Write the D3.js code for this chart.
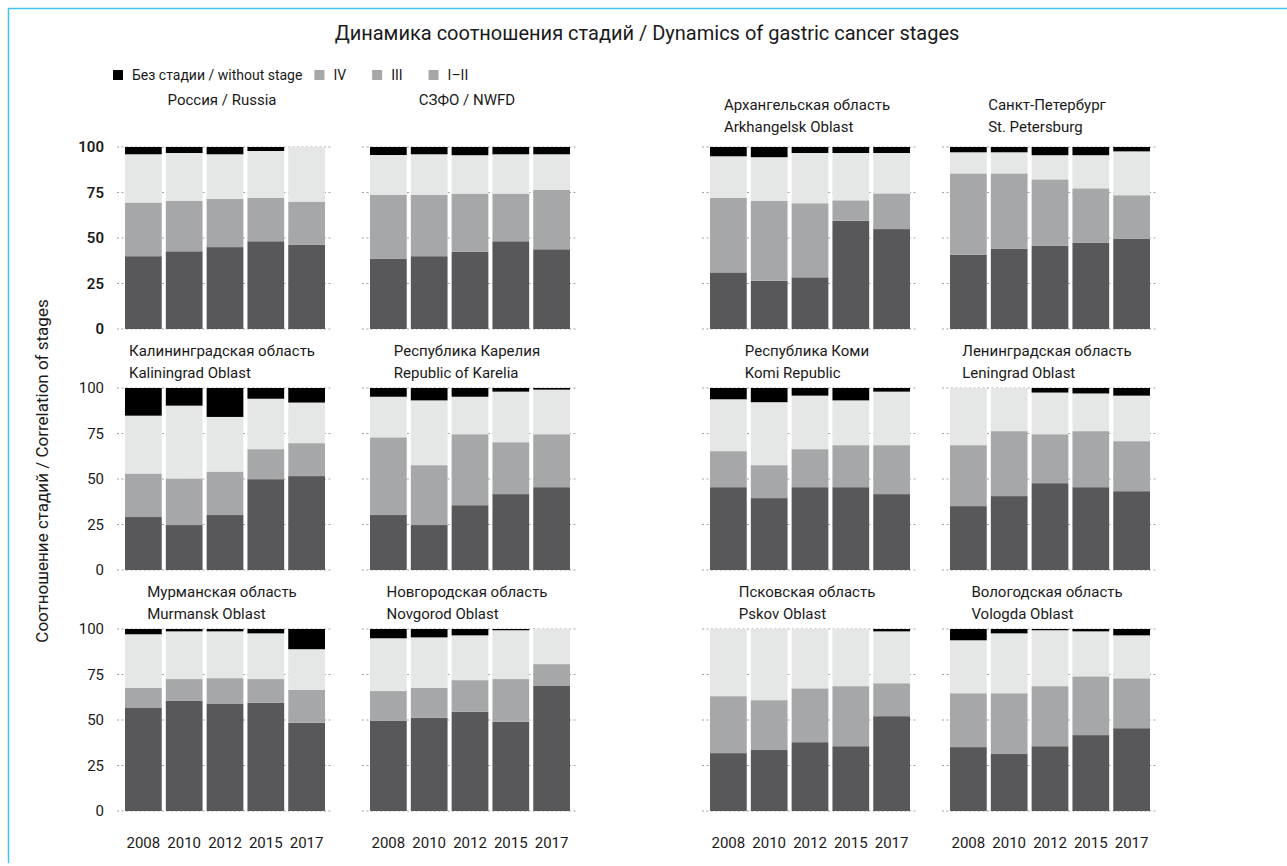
<!DOCTYPE html>
<html>
<head>
<meta charset="utf-8">
<script src="https://cdn.jsdelivr.net/npm/d3@7"></script>
<style>
  body { margin: 0; background: #fff; }
  svg { display: block; font-family: Roboto, "Open Sans", sans-serif; }
</style>
</head>
<body>
<div id="chart"></div>
<script>
// Years on the x axis of every panel
const years = ["2008", "2010", "2012", "2015", "2017"];

// Panel titles (line 1 / line 2)
const titleRu = ["Россия / Russia", "СЗФО / NWFD", "Архангельская область", "Санкт-Петербург",
  "Калининградская область", "Республика Карелия", "Республика Коми", "Ленинградская область",
  "Мурманская область", "Новгородская область", "Псковская область", "Вологодская область"];
const titleEn = ["", "", "Arkhangelsk Oblast", "St. Petersburg",
  "Kaliningrad Oblast", "Republic of Karelia", "Komi Republic", "Leningrad Oblast",
  "Murmansk Oblast", "Novgorod Oblast", "Pskov Oblast", "Vologda Oblast"];

// Legend labels
const legendLabels = ["Без стадии / without stage", "IV", "III", "I–II"];
const yTicks = [0, 25, 50, 75, 100];

// Share of stages, % (one row per region, one value per year)
const stageI_II = [
  [40, 42.7, 45, 48.2, 46.4],
  [38.7, 40, 42.5, 48.2, 43.8],
  [31.1, 26.5, 28.4, 59.5, 54.9],
  [40.9, 44, 45.8, 47.5, 49.5],
  [29.1, 24.7, 30.2, 49.9, 51.6],
  [30.2, 24.7, 35.6, 41.7, 45.5],
  [45.5, 39.5, 45.5, 45.5, 41.7],
  [35.1, 40.6, 47.7, 45.5, 43.3],
  [56.6, 60.5, 58.8, 59.4, 48.5],
  [49.5, 51.2, 54.5, 49, 68.7],
  [31.8, 33.5, 37.8, 35.6, 52.1],
  [35.1, 31.3, 35.6, 41.7, 45.5]
];
const stageIII = [
  [29.5, 27.8, 26.5, 23.8, 23.6],
  [35.1, 33.8, 31.9, 26.2, 32.6],
  [40.9, 43.9, 40.7, 11.2, 19.6],
  [44.6, 41.5, 36.4, 29.8, 24],
  [23.9, 25.6, 23.9, 16.5, 18.1],
  [42.7, 32.9, 39, 28.5, 29.1],
  [19.8, 18.1, 20.9, 23.1, 26.9],
  [33.5, 35.7, 26.9, 30.8, 27.5],
  [11, 12, 14.2, 13.1, 18],
  [16.4, 16.4, 17.4, 23.5, 12],
  [31.3, 27.4, 29.6, 33, 18.1],
  [29.6, 33.4, 33, 32.3, 27.4]
];
const stageIV = [
  [26.5, 26.2, 24.5, 25.8, 30],
  [21.8, 22.2, 21.1, 21.6, 19.6],
  [22.9, 24, 27.6, 26, 22.2],
  [11.6, 11.6, 13.3, 18.2, 24.1],
  [31.8, 40, 30, 27.7, 22.3],
  [22.3, 35.6, 20.6, 27.8, 24.5],
  [28.5, 34.6, 29.4, 24.6, 29.4],
  [31.4, 23.7, 22.9, 20.7, 25],
  [29.5, 26.2, 25.7, 25.1, 22.4],
  [29, 27.8, 24.6, 26.8, 19.3],
  [36.9, 39.1, 32.6, 31.4, 28.5],
  [29.1, 32.9, 30.7, 24.7, 23.6]
];
const noStage = [
  [4, 3.3, 4, 2.2, 0],
  [4.4, 4, 4.5, 4, 4],
  [5.1, 5.6, 3.3, 3.3, 3.3],
  [2.9, 2.9, 4.5, 4.5, 2.4],
  [15.2, 9.7, 15.9, 5.9, 8],
  [4.8, 6.8, 4.8, 2, 0.9],
  [6.2, 7.8, 4.2, 6.8, 2],
  [0, 0, 2.5, 3, 4.2],
  [2.9, 1.3, 1.3, 2.4, 11.1],
  [5.1, 4.6, 3.5, 0.7, 0],
  [0, 0, 0, 0, 1.3],
  [6.2, 2.4, 0.7, 1.3, 3.5]
];

// Layout
const width = 1287;
const height = 866;
const colX = [125, 370, 710, 950];
const rowY = [147, 388, 629];
const panelW = 200;
const panelH = 182;

const keys = ["i_ii", "iii", "iv", "none"];
const colors = { i_ii: "#58585a", iii: "#a6a7a9", iv: "#e5e6e6", none: "#000000" };
const legendColors = ["#000000", "#a6a7a9", "#a6a7a9", "#a6a7a9"];

const svg = d3.select("#chart")
  .append("svg")
  .attr("width", width)
  .attr("height", height);

// Frame
svg.append("line").attr("x1", 8).attr("x2", width).attr("y1", 8.5).attr("y2", 8.5)
  .attr("stroke", "#45c1ef").attr("stroke-width", 1.5);
svg.append("line").attr("x1", 8.5).attr("x2", 8.5).attr("y1", 8).attr("y2", 863)
  .attr("stroke", "#45c1ef").attr("stroke-width", 1.5);

// Title
svg.append("text")
  .attr("x", 647).attr("y", 40)
  .attr("text-anchor", "middle")
  .attr("font-size", 20)
  .attr("fill", "#1a1a1a")
  .text("Динамика соотношения стадий / Dynamics of gastric cancer stages");

// Legend: squares placed one after another, each after the previous label
const legend = svg.append("g").attr("transform", "translate(0,75)");
const legendGap = [0, 12, 26, 26];
let lx = 113;
legendLabels.forEach((label, i) => {
  lx += legendGap[i];
  legend.append("rect")
    .attr("x", lx).attr("y", -5)
    .attr("width", 10).attr("height", 10)
    .attr("fill", legendColors[i]);
  const t = legend.append("text")
    .attr("x", lx + 19).attr("y", 5)
    .attr("font-size", 14)
    .attr("fill", "#1a1a1a")
    .text(label);
  lx += 19 + t.node().getComputedTextLength();
});

// Y axis title
svg.append("text")
  .attr("transform", "translate(48,471) rotate(-90)")
  .attr("text-anchor", "middle")
  .attr("font-size", 17)
  .attr("fill", "#1a1a1a")
  .text("Соотношение  стадий / Correlation of stages");

const x = d3.scaleBand().domain(years).range([0, panelW]).paddingInner(0.1).paddingOuter(0);
const y = d3.scaleLinear().domain([0, 100]).range([panelH, 0]);
const stack = d3.stack().keys(keys);

titleRu.forEach((name, p) => {
  const row = Math.floor(p / 4);
  const col = p % 4;
  const g = svg.append("g").attr("transform", `translate(${colX[col]},${rowY[row]})`);

  const table = years.map((yr, i) => ({
    year: yr,
    i_ii: stageI_II[p][i],
    iii: stageIII[p][i],
    iv: stageIV[p][i],
    none: noStage[p][i]
  }));

  // dashed gridlines
  g.selectAll("line.grid")
    .data(yTicks)
    .enter()
    .append("line")
    .attr("class", "grid")
    .attr("x1", -8).attr("x2", panelW + 8)
    .attr("y1", d => y(d)).attr("y2", d => y(d))
    .attr("stroke", "#a3a3a3")
    .attr("stroke-width", 1)
    .attr("stroke-dasharray", "2,2.5");

  // stacked bars
  g.selectAll("g.layer")
    .data(stack(table))
    .enter()
    .append("g")
    .attr("class", "layer")
    .attr("fill", d => colors[d.key])
    .selectAll("rect")
    .data(d => d)
    .enter()
    .append("rect")
    .attr("x", d => x(d.data.year))
    .attr("y", d => y(d[1]))
    .attr("width", x.bandwidth())
    .attr("height", d => y(d[0]) - y(d[1]));

  // y tick labels in the first column only
  if (col === 0) {
    g.selectAll("text.ytick")
      .data(yTicks)
      .enter()
      .append("text")
      .attr("class", "ytick")
      .attr("x", -21)
      .attr("y", d => y(d) + 5)
      .attr("text-anchor", "end")
      .attr("font-size", 15)
      .attr("font-weight", row === 0 ? 600 : 400)
      .attr("fill", "#1a1a1a")
      .text(d => d);
  }

  // year labels under the last row
  if (row === 2) {
    g.selectAll("text.year")
      .data(years)
      .enter()
      .append("text")
      .attr("class", "year")
      .attr("x", d => x(d) + x.bandwidth() / 2)
      .attr("y", panelH + 37)
      .attr("text-anchor", "middle")
      .attr("font-size", 15)
      .attr("fill", "#1a1a1a")
      .text(d => d);
  }

  // panel title: line 1 centred, line 2 aligned to its left edge
  const cx = panelW / 2 - 3;
  if (titleEn[p] === "") {
    g.append("text")
      .attr("x", cx).attr("y", -42)
      .attr("text-anchor", "middle")
      .attr("font-size", 15)
      .attr("fill", "#1a1a1a")
      .text(name);
  } else {
    const t1 = g.append("text")
      .attr("x", cx).attr("y", row === 0 ? -37 : -32)
      .attr("text-anchor", "middle")
      .attr("font-size", 15)
      .attr("fill", "#1a1a1a")
      .text(name);
    const left = cx - t1.node().getComputedTextLength() / 2;
    g.append("text")
      .attr("x", left).attr("y", row === 0 ? -15 : -10)
      .attr("font-size", 15)
      .attr("fill", "#1a1a1a")
      .text(titleEn[p]);
  }
});
</script>
</body>
</html>
